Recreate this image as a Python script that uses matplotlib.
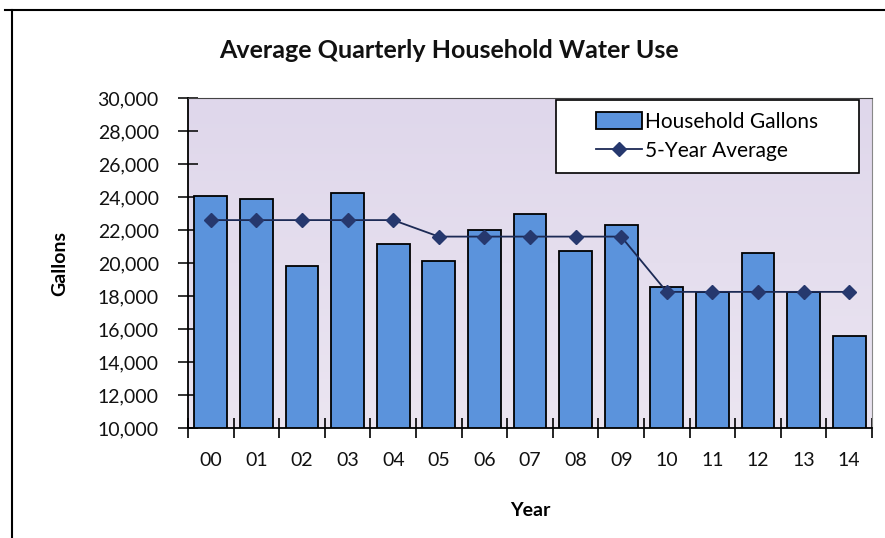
import numpy as np
import matplotlib
matplotlib.use("Agg")
import matplotlib.pyplot as plt
from matplotlib.lines import Line2D
from matplotlib.patches import Rectangle
from matplotlib.colors import LinearSegmentedColormap
from matplotlib.ticker import FuncFormatter

plt.rcParams['font.family'] = ['Lato', 'DejaVu Sans']

years = ["00", "01", "02", "03", "04", "05", "06", "07", "08", "09", "10", "11", "12", "13", "14"]
household_gallons = [24050, 23900, 19800, 24250, 21150, 20150, 22000, 23000, 20700, 22300,
                     18550, 18250, 20600, 18250, 15600]
five_year_avg = [22600, 22600, 22600, 22600, 22600, 21600, 21600, 21600, 21600, 21600,
                 18250, 18250, 18250, 18250, 18250]

W, H = 885, 538
fig = plt.figure(figsize=(W / 100, H / 100), dpi=100)
fig.patch.set_facecolor("white")

ax = fig.add_axes([188 / W, 1 - 428 / H, (872 - 188) / W, (428 - 98) / H])

# lavender plot area, slightly lighter toward the bottom
bg = LinearSegmentedColormap.from_list("bg", ["#ebe5f1", "#dfd7eb"])
ax.imshow(np.linspace(0, 1, 100).reshape(-1, 1), cmap=bg, origin="lower",
          extent=[0, 1, 0, 1], transform=ax.transAxes, aspect="auto", zorder=0)

x = np.arange(len(years))
bars = ax.bar(x, household_gallons, width=0.72, bottom=0, color="#5b93dc",
              edgecolor="black", linewidth=1.3, label="Household Gallons", zorder=2)
avg_line, = ax.plot(x, five_year_avg, color="#1c2a55", linewidth=1.3, marker="D",
                    markersize=7, markerfacecolor="#26386e", markeredgecolor="#26386e",
                    label="5-Year Average", zorder=3)

ax.set_xlim(-0.5, len(years) - 0.5)
ax.set_ylim(10000, 30000)
ax.set_yticks(np.arange(10000, 30001, 2000))
ax.yaxis.set_major_formatter(FuncFormatter(lambda v, p: f"{int(v):,}"))
ax.tick_params(axis="y", direction="inout", length=14, width=1.2, labelsize=14,
               pad=14, colors="#111111")

# category boundaries get the tick marks, labels sit in the middle
ax.set_xticks(np.arange(-0.5, len(years), 1.0))
ax.set_xticklabels([])
ax.set_xticks(x, minor=True)
ax.set_xticklabels(years, minor=True)
ax.tick_params(axis="x", which="major", direction="inout", length=14, width=1.2)
ax.tick_params(axis="x", which="minor", length=0, labelsize=14, pad=17, colors="#111111")

for side in ["left", "bottom"]:
    ax.spines[side].set_color("black")
    ax.spines[side].set_linewidth(1.3)
ax.spines["top"].set_color("#444444")
ax.spines["right"].set_color("#888888")

ax.set_ylabel("Gallons", fontsize=14, fontweight="bold", labelpad=21)
ax.set_xlabel("Year", fontsize=14, fontweight="bold", labelpad=24)

fig.text(449 / W, 1 - 50 / H, "Average Quarterly Household Water Use",
         ha="center", va="center", fontsize=18, fontweight="bold", color="#111111")

# legend box is wider than its contents, so the frame is drawn separately
ax.add_patch(Rectangle((0.538, 0.773), 0.443, 0.221, transform=ax.transAxes,
                       facecolor="white", edgecolor="black", linewidth=1.2, zorder=4))
leg = ax.legend([bars, avg_line], ["Household Gallons", "5-Year Average"],
                loc="center", bbox_to_anchor=(0.7595, 0.8835), fontsize=15,
                frameon=False, borderpad=0.2, handlelength=2.2, handleheight=0.9,
                handletextpad=0.15, labelspacing=0.45)
leg.set_zorder(5)

# outer chart border
fig.add_artist(Line2D([5 / W, 1], [1 - 10 / H, 1 - 10 / H], color="black", linewidth=1.5))
fig.add_artist(Line2D([12 / W, 12 / W], [0, 1 - 10 / H], color="black", linewidth=1.5))

fig.savefig("out.png", dpi=100)
